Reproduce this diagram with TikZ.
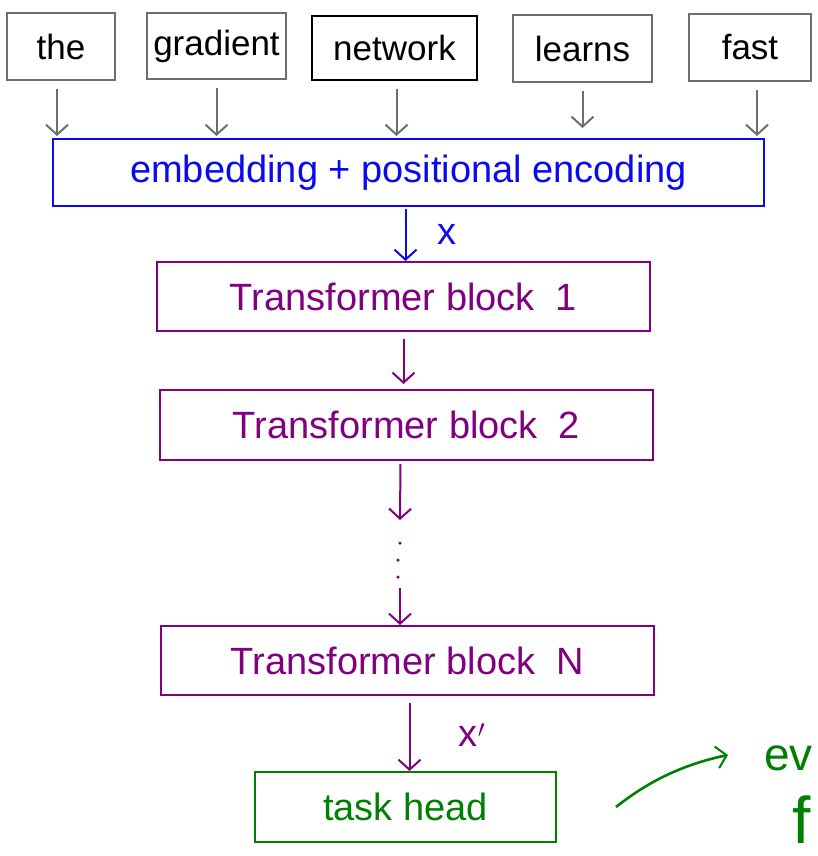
\documentclass[tikz,border=0pt]{standalone}
\usepackage{fontspec}
\setmainfont{Liberation Sans}
\usetikzlibrary{arrows.meta,calc}
\definecolor{tokgray}{RGB}{110,110,110}
\definecolor{hblue}{RGB}{10,10,240}
\definecolor{hpurple}{RGB}{128,0,128}
\definecolor{hgreen}{RGB}{0,128,0}
\tikzset{
  tokbox/.style={draw=tokgray, line width=2pt, fill=white, inner sep=0pt, font=\fontsize{35}{37}\selectfont},
  bigbox/.style={draw, line width=2pt, inner sep=0pt, font=\fontsize{38}{40}\selectfont},
  tip/.style={-{Straight Barb[length=10pt,width=22pt,line width=2pt]}, line width=2pt},
  tokarrow/.style={tip, draw=tokgray, shorten <=8pt, shorten >=2pt},
  dotn/.style={circle, fill=hpurple, inner sep=0pt, minimum size=3.5pt},
}
\begin{document}
\begin{tikzpicture}[x=1pt,y=-1pt]
\useasboundingbox (0,0) rectangle (817,856);
% tokens
\node[tokbox, minimum width=108pt, minimum height=67pt] (the) at (61,46.5) {the};
\node[tokbox, minimum width=139pt, minimum height=66pt] (gradient) at (216.5,46) {gradient};
\node[tokbox, draw=black, line width=2.6pt, minimum width=165pt, minimum height=64pt] (network) at (394.5,48) {network};
\node[tokbox, minimum width=139pt, minimum height=67pt] (learns) at (582.5,48.5) {learns};
\node[tokbox, minimum width=122pt, minimum height=67pt] (fast) at (750,47.5) {fast};
% embedding
\node[bigbox, draw=hblue, text=hblue, minimum width=711pt, minimum height=67pt] (emb) at (408.5,172.5) {embedding + positional encoding};
% transformer blocks
\node[bigbox, draw=hpurple, text=hpurple, minimum width=493pt, minimum height=69pt] (b1) at (403.5,296.5) {Transformer block\ \ 1};
\node[bigbox, draw=hpurple, text=hpurple, minimum width=493pt, minimum height=70pt] (b2) at (406.5,425) {Transformer block\ \ 2};
\node[bigbox, draw=hpurple, text=hpurple, minimum width=493pt, minimum height=69pt] (bN) at (407.5,660.5) {Transformer block\ \ N};
% task head
\node[bigbox, draw=hgreen, text=hgreen, minimum width=301pt, minimum height=70pt] (head) at (405.5,807) {task head};
% token arrows
\draw[tokarrow] ([xshift=-4pt]the.south) -- ([xshift=-4pt]the.south |- emb.north);
\draw[tokarrow] (gradient.south) -- (gradient.south |- emb.north);
\draw[tokarrow] ([xshift=2pt]network.south) -- ([xshift=2pt]network.south |- emb.north);
\draw[tokarrow, shorten >=10pt] (learns.south) -- (learns.south |- emb.north);
\draw[tokarrow] ([xshift=7pt]fast.south) -- ([xshift=7pt]fast.south |- emb.north);
% emb -> b1
\draw[tip, draw=hblue, shorten <=2pt] ([xshift=-3pt]emb.south) -- ([xshift=-3pt]emb.south |- b1.north);
\node[text=hblue, font=\fontsize{38}{40}\selectfont] (xlab) at (447,234) {x};
% b1 -> b2
\draw[tip, draw=hpurple, shorten <=7pt, shorten >=5pt] (b1.south) -- (b1.south |- b2.north);
% b2 -> dots -> bN
\coordinate (a2end) at (400,520);
\draw[tip, draw=hpurple, shorten <=3pt] ([xshift=-6pt]b2.south) -- (a2end);
\node[dotn] (d1) at (400,543) {};
\node[dotn] (d2) at (398,560) {};
\node[dotn] (d3) at (398,577) {};
\coordinate (a3start) at (400,588);
\draw[tip, draw=hpurple] (a3start) -- (a3start |- bN.north);
% bN -> head
\draw[tip, draw=hpurple, shorten <=7pt] ([xshift=2pt]bN.south) -- ([xshift=2pt]bN.south |- head.north);
\node[text=hpurple, font=\fontsize{38}{40}\selectfont] (xplab) at (472,735) {x$'$};
% green curve and cut-off text
\coordinate (gs) at (616,807);
\coordinate (ge) at (728,755);
\draw[tip, draw=hgreen, line width=2.6pt] (gs) .. controls (650,780) and (685,764) .. (ge);
\node[text=hgreen, anchor=west, inner sep=0pt, font=\fontsize{46}{48}\selectfont] (ev) at (764,758) {ev};
\node[text=hgreen, anchor=west, inner sep=0pt, font=\fontsize{66}{68}\selectfont] (f) at (792,820) {f};
\end{tikzpicture}
\end{document}
